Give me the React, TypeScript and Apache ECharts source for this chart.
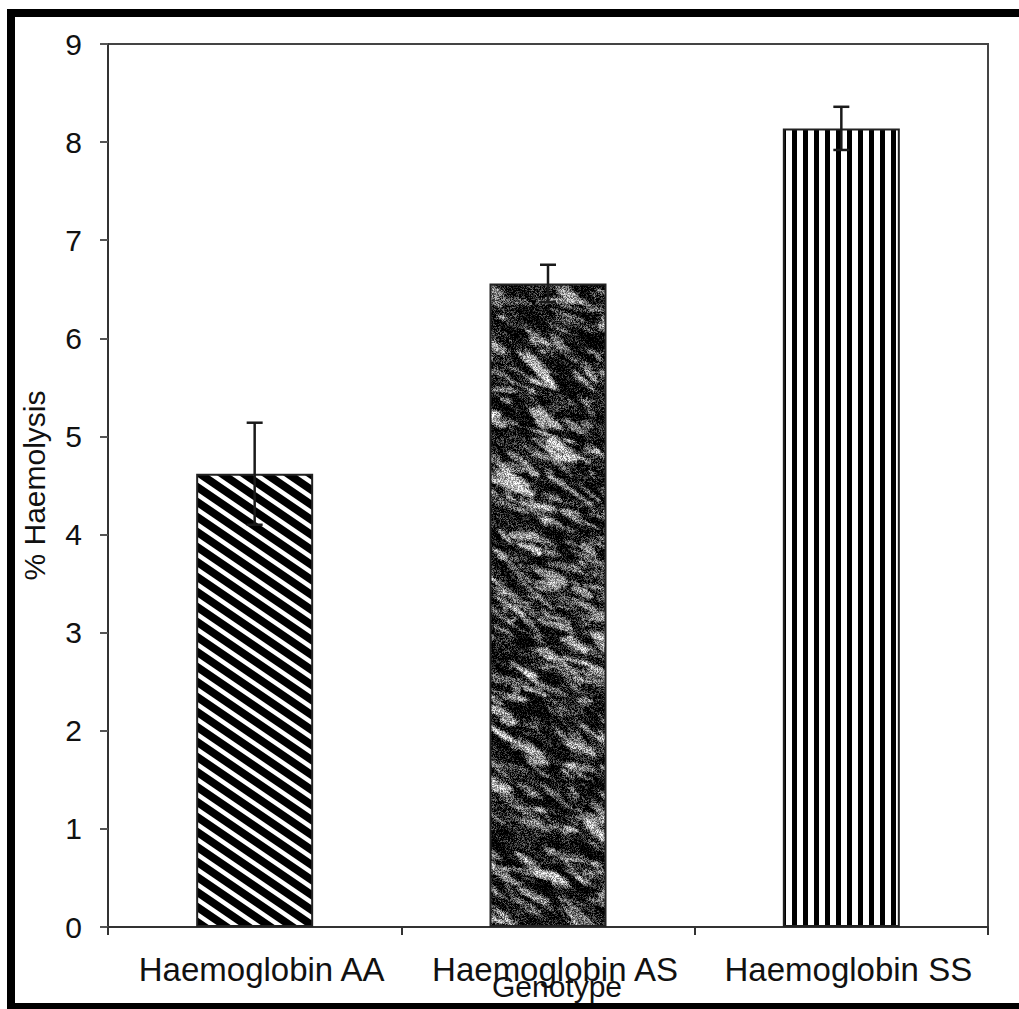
import React, { useEffect, useRef } from "react";
import * as echarts from "echarts";

const categories = ["Haemoglobin AA", "Haemoglobin AS", "Haemoglobin SS"];
const meanValues = [4.62, 6.56, 8.14];
const errorValues = [0.52, 0.19, 0.22];
const yTicks = { min: 0, max: 9, interval: 1 };
const xAxisTitle = "Genotype";
const yAxisTitle = "% Haemolysis";

const FONT = "'Liberation Sans', Arial, Helvetica, sans-serif";

function mulberry32(a: number) {
  return function () {
    a |= 0;
    a = (a + 0x6d2b79f5) | 0;
    let t = Math.imul(a ^ (a >>> 15), 1 | a);
    t = (t + Math.imul(t ^ (t >>> 7), 61 | t)) ^ t;
    return ((t ^ (t >>> 14)) >>> 0) / 4294967296;
  };
}

function diagonalPattern(): HTMLCanvasElement {
  const c = document.createElement("canvas");
  const w = 22, h = 15;
  c.width = w;
  c.height = h;
  const ctx = c.getContext("2d")!;
  ctx.fillStyle = "#000";
  ctx.fillRect(0, 0, w, h);
  ctx.strokeStyle = "#fff";
  ctx.lineWidth = 4.5;
  for (const dx of [-22, 0, 22]) {
    ctx.beginPath();
    ctx.moveTo(dx - 22, -15);
    ctx.lineTo(dx + 44, 30);
    ctx.stroke();
  }
  return c;
}

function verticalPattern(): HTMLCanvasElement {
  const c = document.createElement("canvas");
  c.width = 11;
  c.height = 10;
  const ctx = c.getContext("2d")!;
  ctx.fillStyle = "#fff";
  ctx.fillRect(0, 0, 11, 10);
  ctx.fillStyle = "#000";
  ctx.fillRect(0, 0, 5, 10);
  return c;
}

function texturePattern(): HTMLCanvasElement {
  const c = document.createElement("canvas");
  const w = 320, h = 1009;
  c.width = w;
  c.height = h;
  const ctx = c.getContext("2d")!;
  const rnd = mulberry32(777);
  ctx.fillStyle = "#333";
  ctx.fillRect(0, 0, w, h);
  ctx.filter = "blur(1.2px)";
  for (let i = 0; i < 2800; i++) {
    const x = rnd() * w;
    const y = rnd() * h;
    const len = 10 + rnd() * 45;
    const th = 2.5 + rnd() * 8;
    const ang = 0.5 + (rnd() - 0.5) * 0.9;
    const light = rnd() < 0.5;
    ctx.save();
    ctx.translate(x, y);
    ctx.rotate(ang);
    ctx.fillStyle = light
      ? `rgba(205,205,205,${0.25 + rnd() * 0.45})`
      : `rgba(0,0,0,${0.35 + rnd() * 0.5})`;
    ctx.beginPath();
    ctx.ellipse(0, 0, len / 2, th / 2, 0, 0, Math.PI * 2);
    ctx.fill();
    ctx.restore();
  }
  ctx.filter = "none";
  const img = ctx.getImageData(0, 0, w, h);
  const d = img.data;
  for (let i = 0; i < d.length; i += 4) {
    let v = d[i] + (rnd() - 0.5) * 130;
    v = (v - 85) * 1.25 + 75;
    v = Math.max(0, Math.min(255, v));
    d[i] = d[i + 1] = d[i + 2] = v;
    d[i + 3] = 255;
  }
  ctx.putImageData(img, 0, 0);
  return c;
}

export default function App() {
  const ref = useRef<HTMLDivElement>(null);

  useEffect(() => {
    if (!ref.current) return;
    const chart = echarts.init(ref.current, undefined, { renderer: "svg" });

    const patterns = [diagonalPattern(), texturePattern(), verticalPattern()];

    const barData = meanValues.map((v, i) => ({
      value: v,
      itemStyle: {
        color: { image: patterns[i], repeat: "repeat" } as any,
        borderColor: "#222",
        borderWidth: 2,
      },
    }));

    const errData = meanValues.map((v, i) => [i, v - errorValues[i], v + errorValues[i]]);

    chart.setOption({
      animation: false,
      backgroundColor: "#fff",
      grid: {
        left: 108,
        right: 31,
        top: 44,
        bottom: 82,
        outerBoundsMode: "none",
        containLabel: false,
        show: true,
        borderColor: "#444",
        borderWidth: 2,
        backgroundColor: "transparent",
      },
      xAxis: {
        type: "category",
        data: categories,
        name: xAxisTitle,
        nameLocation: "middle",
        nameGap: 44,
        nameMoveOverlap: false,
        nameTextStyle: {
          fontFamily: FONT,
          fontSize: 30,
          color: "#111",
          padding: [0, 0, 0, 18],
        },
        axisLine: { lineStyle: { color: "#333", width: 2 } },
        axisTick: { show: true, length: 8, lineStyle: { color: "#333", width: 2 } },
        axisLabel: {
          fontFamily: FONT,
          fontSize: 33,
          color: "#111",
          margin: 26,
          interval: 0,
          padding: [0, 0, 0, 14],
        },
        splitLine: { show: false },
      },
      yAxis: {
        type: "value",
        min: yTicks.min,
        max: yTicks.max,
        interval: yTicks.interval,
        name: yAxisTitle,
        nameLocation: "middle",
        nameRotate: 90,
        nameGap: 59,
        nameMoveOverlap: false,
        nameTextStyle: { fontFamily: FONT, fontSize: 30, color: "#111" },
        axisLine: { show: true, lineStyle: { color: "#333", width: 2 } },
        axisTick: { show: true, length: 8, lineStyle: { color: "#555", width: 2 } },
        axisLabel: { fontFamily: FONT, fontSize: 30, color: "#111", margin: 26 },
        splitLine: { show: false },
      },
      graphic: [
        { type: "rect", shape: { x: 7, y: 9, width: 8, height: 1000 }, style: { fill: "#000" }, z: 100 },
        { type: "rect", shape: { x: 7, y: 9, width: 1012, height: 8 }, style: { fill: "#000" }, z: 100 },
        { type: "rect", shape: { x: 7, y: 1003, width: 1012, height: 6 }, style: { fill: "#000" }, z: 100 },
      ],
      series: [
        {
          type: "bar",
          data: barData,
          barWidth: 117,
          z: 2,
        },
        {
          type: "custom",
          data: errData,
          encode: { x: 0, y: [1, 2] },
          z: 5,
          renderItem: (params: any, api: any) => {
            const idx = api.value(0);
            const lo = api.value(1);
            const hi = api.value(2);
            const pHi = api.coord([idx, hi]);
            const pLo = api.coord([idx, lo]);
            const hw = 8;
            const st = { stroke: "#1a1a1a", lineWidth: 2.5 };
            return {
              type: "group",
              children: [
                { type: "line", shape: { x1: pHi[0], y1: pHi[1], x2: pLo[0], y2: pLo[1] }, style: st },
                { type: "line", shape: { x1: pHi[0] - hw, y1: pHi[1], x2: pHi[0] + hw, y2: pHi[1] }, style: st },
                { type: "line", shape: { x1: pLo[0] - hw, y1: pLo[1], x2: pLo[0] + hw, y2: pLo[1] }, style: st },
              ],
            };
          },
        },
      ],
    });

    return () => chart.dispose();
  }, []);

  return (
    <div
      ref={ref}
      style={{ position: "fixed", left: 0, top: 0, width: 1019, height: 1009, background: "#fff" }}
    />
  );
}
